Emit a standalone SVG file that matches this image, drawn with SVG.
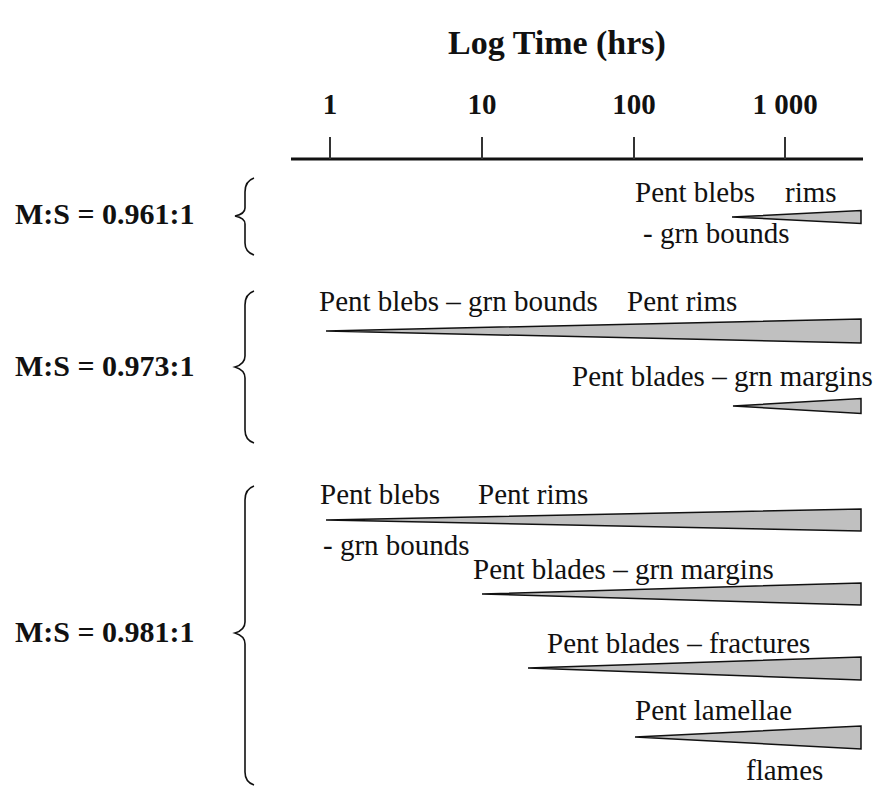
<svg xmlns="http://www.w3.org/2000/svg" width="877" height="787" viewBox="0 0 877 787">
<style>
text{font-family:"Liberation Serif","Times New Roman",serif;fill:#111}
.t{font-size:29px}
.b{font-weight:bold}
.lab{font-size:30px;font-weight:bold}
.tick{font-size:29px;font-weight:bold}
.w{fill:#c0c0c0;stroke:#111;stroke-width:1.5;stroke-linejoin:miter}
.br{fill:none;stroke:#111;stroke-width:1.6}
.ax{stroke:#111;stroke-width:3}
.tk{stroke:#333;stroke-width:2}
</style>
<rect width="877" height="787" fill="#fff"/>
<g id="axis">
<text x="557" y="54" text-anchor="middle" class="b" style="font-size:34px">Log Time (hrs)</text>
<line class="ax" x1="291" y1="159" x2="863" y2="159"/>
<line class="tk" x1="330" y1="137" x2="330" y2="159"/>
<line class="tk" x1="482" y1="137" x2="482" y2="159"/>
<line class="tk" x1="634" y1="137" x2="634" y2="159"/>
<line class="tk" x1="785" y1="137" x2="785" y2="159"/>
<text class="tick" x="330" y="114" text-anchor="middle">1</text>
<text class="tick" x="482" y="114" text-anchor="middle">10</text>
<text class="tick" x="634" y="114" text-anchor="middle">100</text>
<text class="tick" x="785" y="114" text-anchor="middle">1 000</text>
</g>
<g id="group1">
<text class="lab" x="15" y="224">M:S = 0.961:1</text>
<path class="br" d="M254,178 Q245,181 245,192 L245,208 Q245,214 235,216 Q245,218 245,224 L245,243 Q245,252 254,255"/>
<text class="t" x="635" y="202">Pent blebs</text>
<text class="t" x="785" y="202">rims</text>
<polygon class="w" points="732,217 861,210.5 861,223.5"/>
<text class="t" x="643" y="243">- grn bounds</text>
</g>
<g id="group2">
<text class="lab" x="15" y="376">M:S = 0.973:1</text>
<path class="br" d="M254,291 Q245,294 245,305 L245,356 Q245,364 235,367 Q245,370 245,378 L245,430 Q245,440 254,443"/>
<text class="t" x="319" y="311">Pent blebs – grn bounds</text>
<text class="t" x="627" y="311">Pent rims</text>
<polygon class="w" points="326,331 861,319 861,343"/>
<text class="t" x="572" y="386">Pent blades – grn margins</text>
<polygon class="w" points="733,406 861,398.5 861,413.5"/>
</g>
<g id="group3">
<text class="lab" x="15" y="642">M:S = 0.981:1</text>
<path class="br" d="M254,486 Q245,489 245,500 L245,622 Q245,630 235,633 Q245,636 245,644 L245,772 Q245,782 254,785"/>
<text class="t" x="320" y="504">Pent blebs</text>
<text class="t" x="478" y="504">Pent rims</text>
<polygon class="w" points="326,520 861,509 861,531"/>
<text class="t" x="323" y="555">- grn bounds</text>
<text class="t" x="473" y="579">Pent blades – grn margins</text>
<polygon class="w" points="482,594 861,583 861,605"/>
<text class="t" x="547" y="653">Pent blades – fractures</text>
<polygon class="w" points="528,668 861,657 861,680"/>
<text class="t" x="635" y="720">Pent lamellae</text>
<polygon class="w" points="635,737 861,726 861,749"/>
<text class="t" x="746" y="780">flames</text>
</g>
</svg>
